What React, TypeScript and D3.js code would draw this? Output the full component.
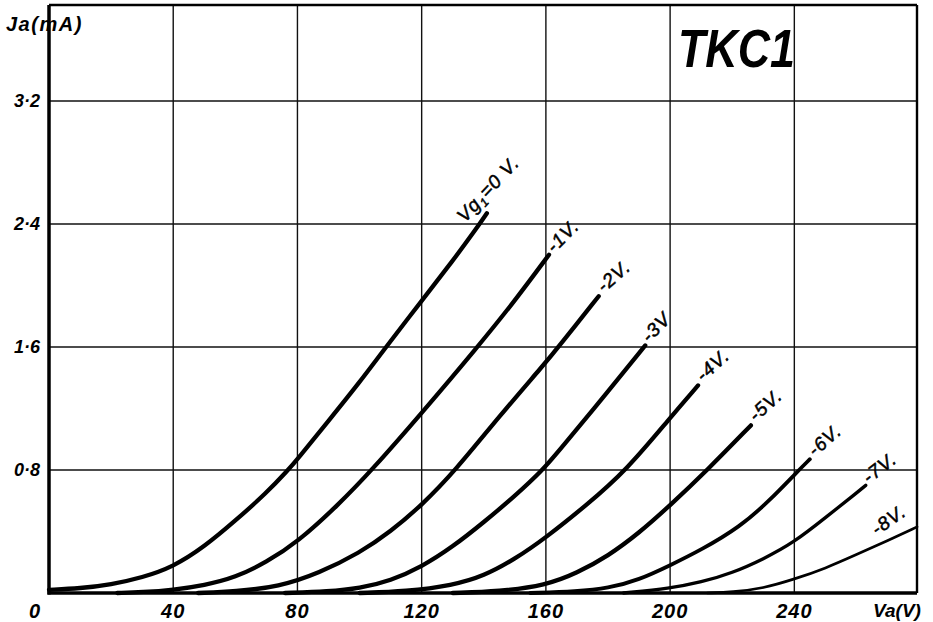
import React, { useEffect } from "react";
import * as d3 from "d3";

// Ia (mA) vs Va (V) for each control-grid bias, read from the plate
const curveVg0: [number, number][] = [
  [0, 0.02], [10, 0.03], [20, 0.055], [30, 0.1], [40, 0.17], [50, 0.3], [60, 0.47],
  [70, 0.65], [77, 0.8], [80, 0.87], [90, 1.12], [100, 1.37], [108.5, 1.6],
  [120, 1.9], [130, 2.16], [138, 2.38], [141, 2.47],
];
const curveVg1: [number, number][] = [
  [22, 0], [30, 0.005], [40, 0.02], [50, 0.05], [60, 0.1], [70, 0.2], [80, 0.33],
  [93, 0.57], [104, 0.8], [120, 1.17], [138, 1.6], [150, 1.9], [161, 2.2],
];
const curveVg2: [number, number][] = [
  [48, 0], [60, 0.01], [74, 0.04], [87, 0.13], [100, 0.26], [110, 0.4], [120, 0.57],
  [131, 0.8], [145, 1.15], [160, 1.5], [164, 1.6], [177, 1.93],
];
const curveVg3: [number, number][] = [
  [76, 0], [90, 0.01], [100, 0.03], [110, 0.08], [120, 0.17], [130, 0.3], [140, 0.46],
  [150, 0.63], [159, 0.8], [164, 0.92], [180, 1.31], [192, 1.61],
];
const curveVg4: [number, number][] = [
  [100, 0], [115, 0.01], [130, 0.05], [140, 0.11], [150, 0.22], [160, 0.36],
  [173, 0.57], [186, 0.8], [200, 1.14], [209, 1.35],
];
const curveVg5: [number, number][] = [
  [130, 0], [145, 0.01], [160, 0.05], [170, 0.13], [180, 0.24], [190, 0.39],
  [200, 0.57], [212, 0.8], [226, 1.09],
];
const curveVg6: [number, number][] = [
  [155, 0], [170, 0.01], [180, 0.03], [190, 0.085], [200, 0.18], [210, 0.28],
  [222.5, 0.43], [232, 0.6], [241, 0.79], [245, 0.87],
];
const curveVg7: [number, number][] = [
  [185, 0], [200, 0.03], [210, 0.07], [220, 0.13], [230, 0.22], [240, 0.33],
  [250, 0.49], [260, 0.65], [263, 0.7],
];
const curveVg8: [number, number][] = [
  [212, 0], [220, 0.005], [230, 0.03], [240, 0.09], [250, 0.16], [260, 0.25],
  [270, 0.34], [279.5, 0.43],
];

const curves = [curveVg0, curveVg1, curveVg2, curveVg3, curveVg4, curveVg5, curveVg6, curveVg7, curveVg8];
const curveLabels = ["=0 V.", "-1V.", "-2V.", "-3V", "-4V.", "-5V.", "-6V.", "-7V.", "-8V."];

const xTicks = [0, 40, 80, 120, 160, 200, 240];
const xTickLabels = ["0", "40", "80", "120", "160", "200", "240"];
const yTicks = [0.8, 1.6, 2.4, 3.2];
const yTickLabels = ["0·8", "1·6", "2·4", "3·2"];

// layout only: label offset from the curve end (px), rotation, line width
const labelDx = [-22, 5, 5, 4, 5, 5, 5, 3, -40];
const labelDy = [10, -1, -3, -2, -3, -3, -2, -1, 9];
const labelRot = [-47, -45, -41, -46, -42, -42, -41, -38, -35];
const strokeW = [4.3, 4.3, 4.3, 4.3, 4.3, 4.3, 3.8, 3.3, 2.7];

const W = 933;
const H = 622;
const font = "'Liberation Sans', Arial, sans-serif";

export default function App() {
  useEffect(() => {
    document.body.style.margin = "0";
  }, []);

  const x = d3.scaleLinear().domain([0, 279.5]).range([49, 917]);
  const y = d3.scaleLinear().domain([0, 3.824]).range([593, 5]);

  const line = d3
    .line<[number, number]>()
    .x((d) => x(d[0]))
    .y((d) => y(d[1]))
    .curve(d3.curveBasis);

  return (
    <svg width={W} height={H} style={{ display: "block", background: "#fff" }}>
      {/* grid */}
      {xTicks.slice(1).map((t) => (
        <line key={"gx" + t} x1={x(t)} x2={x(t)} y1={y(3.824)} y2={y(0)} stroke="#111" strokeWidth={1.4} />
      ))}
      {yTicks.map((t) => (
        <line key={"gy" + t} x1={x(0)} x2={x(279.5)} y1={y(t)} y2={y(t)} stroke="#111" strokeWidth={1.4} />
      ))}

      {/* frame */}
      <line x1={x(0)} x2={x(279.5)} y1={y(3.824)} y2={y(3.824)} stroke="#000" strokeWidth={2.4} />
      <line x1={x(279.5)} x2={x(279.5)} y1={y(3.824)} y2={y(0)} stroke="#000" strokeWidth={2.4} />
      <line x1={x(0)} x2={x(0)} y1={y(3.824)} y2={y(0) + 1.5} stroke="#000" strokeWidth={3.5} />
      <line x1={x(0) - 1.5} x2={x(279.5)} y1={y(0)} y2={y(0)} stroke="#000" strokeWidth={3.5} />

      {/* characteristic curves */}
      {curves.map((c, i) => (
        <path key={"c" + i} d={line(c) ?? ""} fill="none" stroke="#000" strokeWidth={strokeW[i]} strokeLinecap="round" />
      ))}

      {/* curve labels */}
      {curves.map((c, i) => {
        const end = c[c.length - 1];
        const px = x(end[0]) + labelDx[i];
        const py = y(end[1]) + labelDy[i];
        return (
          <text
            key={"l" + i}
            transform={`translate(${px},${py}) rotate(${labelRot[i]})`}
            fontFamily={font}
            fontStyle="italic"
            fontSize={19}
            letterSpacing={1}
            stroke="#000"
            strokeWidth={0.5}
            fill="#000"
          >
            {i === 0 ? (
              <>
                <tspan>Vg</tspan>
                <tspan fontSize={12} dy={4}>1</tspan>
                <tspan dy={-4}>{curveLabels[i]}</tspan>
              </>
            ) : (
              curveLabels[i]
            )}
          </text>
        );
      })}

      {/* x tick labels */}
      {xTicks.map((t, i) => (
        <text
          key={"xt" + t}
          x={t === 0 ? x(0) - 14 : x(t)}
          y={618}
          textAnchor="middle"
          fontFamily={font}
          fontStyle="italic"
          fontWeight="bold"
          fontSize={20}
          letterSpacing={1}
          fill="#000"
        >
          {xTickLabels[i]}
        </text>
      ))}
      <text x={897} y={617} textAnchor="middle" fontFamily={font} fontStyle="italic" fontWeight="bold" fontSize={19}>
        Va(V)
      </text>

      {/* y tick labels */}
      {yTicks.map((t, i) => (
        <text
          key={"yt" + t}
          x={40}
          y={y(t) + 6}
          textAnchor="end"
          fontFamily={font}
          fontStyle="italic"
          fontWeight="bold"
          fontSize={18}
          fill="#000"
        >
          {yTickLabels[i]}
        </text>
      ))}
      <text x={6} y={31} fontFamily={font} fontStyle="italic" fontWeight="bold" fontSize={20} letterSpacing={1.5} fill="#000">
        Ja(mA)
      </text>

      {/* tube type */}
      <text
        x={678}
        y={67}
        fontFamily={font}
        fontStyle="italic"
        fontWeight="bold"
        fontSize={54}
        textLength={117}
        lengthAdjust="spacingAndGlyphs"
        fill="#000"
      >
        TKC1
      </text>
    </svg>
  );
}
